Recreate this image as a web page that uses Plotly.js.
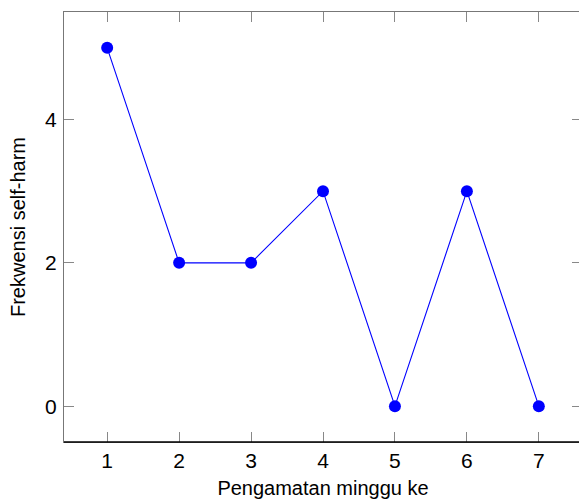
<!DOCTYPE html>
<html>
<head>
<meta charset="utf-8">
<script src="https://cdn.plot.ly/plotly-3.0.1.min.js"></script>
<style>
html,body{margin:0;padding:0;overflow:hidden;background:#fff;}
#chart{width:582px;height:502px;}
</style>
</head>
<body>
<div id="chart"></div>
<script>
var weeks = [1, 2, 3, 4, 5, 6, 7];
var frequency = [5, 2, 2, 3, 0, 3, 0];
var xTickLabels = ['1', '2', '3', '4', '5', '6', '7'];
var yTickVals = [0, 2, 4];

var trace = {
  x: weeks,
  y: frequency,
  type: 'scatter',
  mode: 'lines+markers',
  line: {color: '#0000ff', width: 1.1},
  marker: {color: '#0000ff', size: 12},
  cliponaxis: false,
  hoverinfo: 'skip'
};

var fam = 'Liberation Sans, Arial, Helvetica, sans-serif';

var layout = {
  width: 582,
  height: 502,
  margin: {l: 64, r: 0, t: 12, b: 60},
  paper_bgcolor: '#fff',
  plot_bgcolor: '#fff',
  showlegend: false,
  font: {family: fam, color: '#000'},
  xaxis: {
    range: [0.4, 7.6],
    tickvals: weeks,
    ticktext: xTickLabels,
    ticks: 'inside',
    ticklen: 10,
    tickcolor: '#888',
    tickwidth: 1,
    showline: true,
    linecolor: '#777',
    linewidth: 1,
    mirror: 'ticks',
    showgrid: false,
    zeroline: false,
    tickfont: {size: 21, family: fam, color: '#000'},
    title: {text: 'Pengamatan minggu ke', font: {size: 20, family: fam, color: '#000'}, standoff: 9}
  },
  yaxis: {
    range: [-0.5, 5.5],
    tickvals: yTickVals,
    ticks: 'inside',
    ticklen: 10,
    tickcolor: '#888',
    tickwidth: 1,
    showline: true,
    linecolor: '#777',
    linewidth: 1,
    mirror: 'ticks',
    showgrid: false,
    zeroline: false,
    ticklabelstandoff: 2,
    tickfont: {size: 21, family: fam, color: '#000'},
    title: {text: 'Frekwensi self-harm', font: {size: 20, family: fam, color: '#000'}, standoff: 14}
  },
  shapes: [{
    type: 'line', xref: 'paper', yref: 'paper',
    x0: 0, x1: 1, y0: 0, y1: 0,
    line: {color: '#000', width: 1.3}
  }]
};

Plotly.newPlot('chart', [trace], layout, {displayModeBar: false, staticPlot: true});
</script>
</body>
</html>
